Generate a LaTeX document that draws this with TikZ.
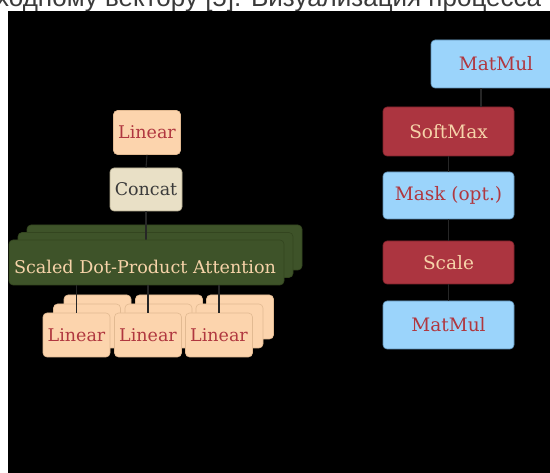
\documentclass[tikz,border=0pt]{standalone}
\usepackage{fontspec}
\newfontfamily\boxfont{DejaVu Serif}
\newfontfamily\capfont{Liberation Sans}
\definecolor{peach}{HTML}{FCD4AD}
\definecolor{peachline}{HTML}{E2BA92}
\definecolor{redbox}{HTML}{AC3540}
\definecolor{redline}{HTML}{7E222B}
\definecolor{bluebox}{HTML}{9BD4FB}
\definecolor{blueline}{HTML}{5E8FB5}
\definecolor{beige}{HTML}{E9E0C6}
\definecolor{beigeline}{HTML}{B5AB90}
\definecolor{moss}{HTML}{3E5329}
\definecolor{mossline}{HTML}{33451F}
\definecolor{redtext}{HTML}{B0373F}
\definecolor{peachtext}{HTML}{F6D3A9}
\definecolor{graytext}{HTML}{3A3A3A}
\definecolor{wire}{HTML}{262626}
\tikzset{
  blk/.style={rectangle, rounded corners=4pt, inner sep=0pt, line width=0.6pt, align=center},
  linbox/.style={blk, fill=peach, draw=peachline, text=redtext,
    minimum width=67pt, minimum height=44pt, font=\boxfont\fontsize{17.5}{20}\selectfont},
  catbox/.style={blk, fill=beige, draw=beigeline, text=graytext,
    minimum width=72pt, minimum height=43pt, font=\boxfont\fontsize{17.5}{20}\selectfont},
  attbox/.style={blk, fill=moss, draw=mossline, text=peachtext,
    minimum width=275pt, minimum height=45pt, font=\boxfont\fontsize{17.6}{20}\selectfont},
  opblue/.style={blk, fill=bluebox, draw=blueline, text=redtext,
    minimum width=131pt, font=\boxfont\fontsize{18.5}{20}\selectfont},
  opred/.style={blk, fill=redbox, draw=redline, text=peachtext,
    minimum width=131pt, font=\boxfont\fontsize{18.5}{20}\selectfont},
  wireline/.style={draw=wire, line width=1.1pt}
}
\begin{document}
\begin{tikzpicture}[x=1pt,y=-1pt]
\useasboundingbox (0,0) rectangle (550,473);
\clip (0,0) rectangle (550,473);
% page strip with the running text line above the figure
\fill[white] (0,0) rectangle (550,473);
\begin{scope}
  \clip (0,0) rectangle (550,11);
  \node[anchor=base west, inner sep=0pt, text=graytext,
        font=\capfont\fontsize{26}{28}\selectfont] (cap) at (-4,6.5)
        {ходному вектору [5]. Визуализация процесса};
\end{scope}
% figure canvas
\fill[black] (8,11) rectangle (550,473);

% ---- multi-head attention (left) ----
% stacked layers behind the attention block
\node[attbox] (attC) at (164.5,247.5) {};
\node[attbox] (attB) at (155.5,255) {};
% stacked layers behind the three projections
\foreach \cx/\nm in {76.5/a, 148/b, 219/c}{
  \node[linbox] (lin\nm C) at (\cx+21,317) {};
  \node[linbox] (lin\nm B) at (\cx+10.5,326) {};
}
\node[linbox] (lintop) at (147,132.5) {Linear};
\node[catbox] (concat) at (146,189.5) {Concat};

\draw[wireline] (lintop.south) -- (concat.north);
\draw[wireline] (concat.south) -- (146,240);

\node[attbox] (att) at (146.5,262.5) {};
\node[text=peachtext, font=\boxfont\fontsize{17.6}{20}\selectfont, inner sep=0pt]
  (attlabel) at (145,266.5) {Scaled Dot-Product Attention};

\node[linbox] (lina) at (76.5,335) {Linear};
\node[linbox] (linb) at (148,335) {Linear};
\node[linbox] (linc) at (219,335) {Linear};

\draw[wireline] (lina.north) -- (lina.north |- att.south);
\draw[wireline] (linb.north) -- (linb.north |- att.south);
\draw[wireline] (linc.north) -- (linc.north |- att.south);

% ---- scaled dot-product attention (right) ----
\node[opblue, minimum width=130pt, minimum height=48pt] (mm2) at (496,64) {MatMul};
\node[opred, minimum height=49pt] (soft) at (448.5,131.5) {SoftMax};
\node[opblue, minimum height=47pt] (mask) at (448.5,195.5) {Mask (opt.)};
\node[opred, minimum height=43pt] (scale) at (448.5,262.5) {Scale};
\node[opblue, minimum height=48pt] (mm1) at (448.5,325) {MatMul};

\draw[wireline] (mm1.north) -- (scale.south);
\draw[wireline] (scale.north) -- (mask.south);
\draw[wireline] (mask.north) -- (soft.south);
\draw[wireline] (soft.north -| 481,0) -- (mm2.south -| 481,0);
\end{tikzpicture}
\end{document}
